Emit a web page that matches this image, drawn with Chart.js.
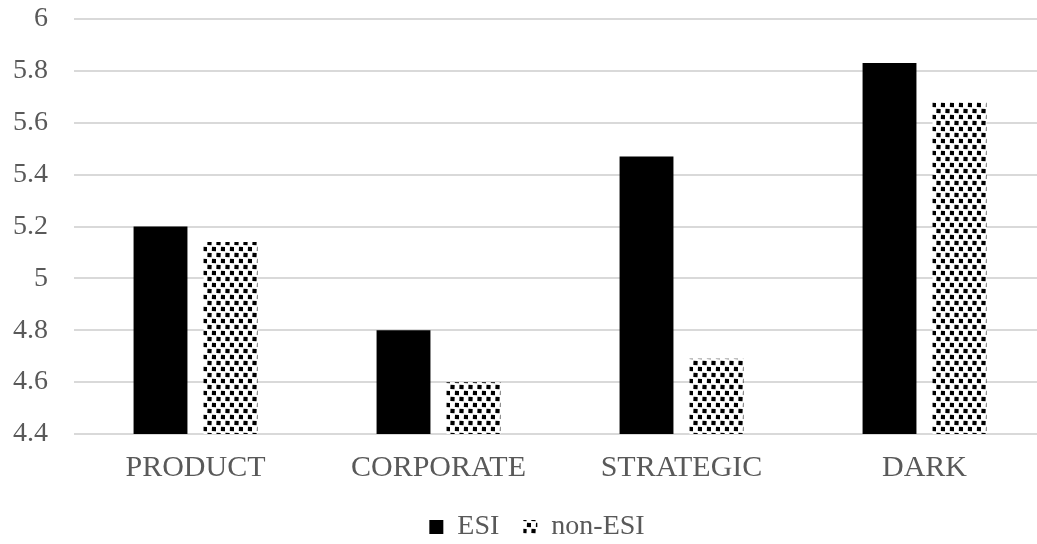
<!DOCTYPE html>
<html>
<head>
<meta charset="utf-8">
<script src="https://cdn.jsdelivr.net/npm/chart.js@4/dist/chart.umd.min.js"></script>
<style>
  html, body { margin: 0; padding: 0; background: #ffffff; overflow: hidden; }
  #wrap { position: relative; width: 1075px; height: 544px; }
</style>
</head>
<body>
<div id="wrap"><canvas id="chart"></canvas></div>
<script>
const categories = ['PRODUCT', 'CORPORATE', 'STRATEGIC', 'DARK'];
const esiValues = [5.2, 4.8, 5.47, 5.83];
const nonEsiValues = [5.14, 4.6, 4.69, 5.68];
const seriesNames = ['ESI', 'non-ESI'];

// Dotted fill for the second series: staggered black dots on white
function dotPattern() {
  const tile = document.createElement('canvas');
  tile.width = 9;
  tile.height = 12;
  const t = tile.getContext('2d');
  t.fillStyle = '#ffffff';
  t.fillRect(0, 0, 9, 12);
  t.fillStyle = '#000000';
  [[2.5, 3], [7, 9]].forEach(([x, y]) => {
    t.beginPath();
    t.moveTo(x - 2, y - 2.2);
    t.lineTo(x + 2.2, y - 2);
    t.lineTo(x + 2, y + 2.2);
    t.lineTo(x - 2.2, y + 2);
    t.closePath();
    t.fill();
  });
  const ctx = document.getElementById('chart').getContext('2d');
  return ctx.createPattern(tile, 'repeat');
}

// Nudge the legend row to the right so it sits under the middle of the page
const legendShift = {
  id: 'legendShift',
  afterLayout(chart) {
    const lg = chart.legend;
    if (lg) {
      lg.left += 14;
      lg.right += 14;
    }
  }
};

const grey = '#595959';
const serif = "'Liberation Serif', 'Times New Roman', serif";

new Chart(document.getElementById('chart'), {
  type: 'bar',
  data: {
    labels: categories,
    datasets: [
      {
        label: seriesNames[0],
        data: esiValues,
        backgroundColor: '#000000',
        borderWidth: 0
      },
      {
        label: seriesNames[1],
        data: nonEsiValues,
        backgroundColor: dotPattern(),
        borderWidth: 0
      }
    ]
  },
  plugins: [legendShift],
  options: {
    responsive: true,
    maintainAspectRatio: false,
    animation: false,
    categoryPercentage: 0.576,
    barPercentage: 0.77,
    layout: { padding: { top: 0, right: 29, left: 0, bottom: -7 } },
    plugins: {
      tooltip: { enabled: false },
      legend: {
        position: 'bottom',
        labels: {
          color: grey,
          font: { family: serif, size: 28 },
          boxWidth: 14,
          boxHeight: 14,
          padding: 24
        }
      }
    },
    scales: {
      x: {
        afterFit: (scale) => { scale.height = 55; },
        grid: { display: false, drawTicks: false },
        border: { display: false },
        ticks: {
          color: grey,
          font: { family: serif, size: 30 },
          padding: 16
        }
      },
      y: {
        min: 4.4,
        max: 6,
        afterFit: (scale) => {
          scale.width = 74;
          scale.paddingTop = 19;
          scale.paddingBottom = 0;
        },
        grid: { color: '#d9d9d9', lineWidth: 2, drawTicks: false },
        border: { display: false },
        ticks: {
          stepSize: 0.2,
          color: grey,
          font: { family: serif, size: 28 },
          padding: 26,
          callback: (v) => parseFloat(v.toFixed(1)).toString()
        }
      }
    }
  }
});
</script>
</body>
</html>
